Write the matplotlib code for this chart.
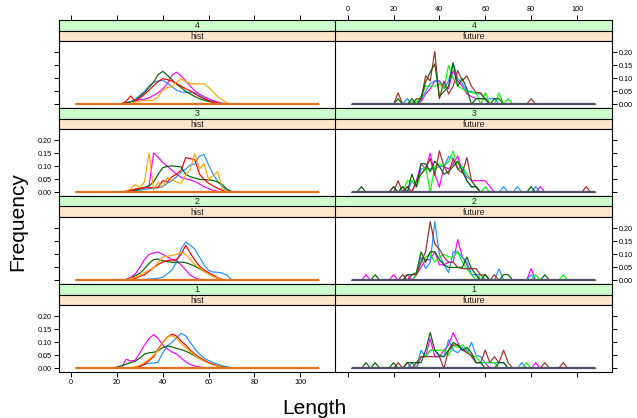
#!/usr/bin/env python3

# Lattice-style panel chart: length frequency per area (1-4), hist vs future.

import matplotlib
matplotlib.use('Agg')
import matplotlib.pyplot as plt

plt.rcParams['font.family'] = ['Liberation Sans', 'DejaVu Sans']

# Length bins (step 2). Series values below are given on WINDOW, extras
# are stray single-bin values outside it. Everything else is zero.
LENGTHS = list(range(2, 110, 2))
WINDOW = list(range(16, 74, 2))

levels = ['4', '3', '2', '1']
periods = ['hist', 'future']

hist_colors = {'magenta': '#FF00FF', 'blue': '#1E90FF', 'dkgreen': '#006400',
               'red': '#FF0000', 'orange': '#FFA500'}
future_colors = {'magenta': '#FF00FF', 'blue': '#1E90FF', 'lime': '#00FF00',
                 'brown': '#A52A2A', 'dkgreen': '#006400'}

hist_4 = {
    'magenta': [0, 0, 0, 0.002, 0.005, 0.010, 0.014, 0.018, 0.020, 0.025,
                0.035, 0.045, 0.060, 0.080, 0.112, 0.124, 0.110, 0.090, 0.070, 0.052,
                0.040, 0.030, 0.022, 0.015, 0.009, 0.005, 0.002, 0, 0],
    'blue': [0, 0, 0, 0, 0.004, 0.010, 0.020, 0.035, 0.050, 0.070,
             0.085, 0.090, 0.092, 0.082, 0.068, 0.055, 0.048, 0.046, 0.047, 0.045,
             0.035, 0.025, 0.016, 0.010, 0.006, 0.004, 0.002, 0.001, 0],
    'dkgreen': [0, 0, 0, 0.002, 0.006, 0.010, 0.015, 0.030, 0.045, 0.065,
                0.086, 0.115, 0.127, 0.112, 0.095, 0.078, 0.065, 0.050, 0.040, 0.030,
                0.022, 0.016, 0.011, 0.008, 0.004, 0.002, 0.001, 0, 0],
    'red': [0, 0, 0, 0.003, 0.012, 0.032, 0.012, 0.025, 0.038, 0.055,
            0.072, 0.088, 0.099, 0.095, 0.090, 0.080, 0.070, 0.060, 0.052, 0.040,
            0.030, 0.022, 0.015, 0.009, 0.005, 0.002, 0.001, 0, 0],
    'orange': [0, 0, 0, 0, 0.002, 0.004, 0.008, 0.012, 0.015, 0.015,
               0.015, 0.030, 0.055, 0.065, 0.068, 0.085, 0.098, 0.088, 0.080, 0.079,
               0.079, 0.079, 0.065, 0.047, 0.030, 0.018, 0.006, 0.001, 0],
}
hist_3 = {
    'magenta': [0, 0, 0, 0.002, 0.005, 0.008, 0.012, 0.015, 0.018, 0.025,
                0.152, 0.135, 0.115, 0.10, 0.085, 0.07, 0.058, 0.052, 0.048, 0.042,
                0.032, 0.022, 0.014, 0.008, 0.004, 0.002, 0, 0, 0],
    'blue': [0, 0, 0, 0, 0.002, 0.004, 0.006, 0.008, 0.011, 0.014,
             0.016, 0.018, 0.022, 0.035, 0.045, 0.06, 0.078, 0.09, 0.105, 0.11,
             0.14, 0.146, 0.105, 0.07, 0.042, 0.022, 0.01, 0.004, 0.001],
    'dkgreen': [0, 0, 0, 0.001, 0.003, 0.005, 0.008, 0.013, 0.018, 0.025,
                0.04, 0.07, 0.095, 0.10, 0.102, 0.10, 0.098, 0.07, 0.06, 0.055,
                0.05, 0.049, 0.048, 0.046, 0.04, 0.03, 0.012, 0.003, 0],
    'red': [0, 0, 0, 0.001, 0.004, 0.008, 0.012, 0.016, 0.018, 0.018,
            0.018, 0.02, 0.045, 0.04, 0.06, 0.07, 0.085, 0.134, 0.13, 0.125,
            0.07, 0.05, 0.035, 0.025, 0.015, 0.008, 0.003, 0, 0],
    'orange': [0, 0, 0, 0, 0.005, 0.014, 0.03, 0.018, 0.04, 0.152,
               0.01, 0.04, 0.02, 0.057, 0.05, 0.04, 0.035, 0.065, 0.09, 0.15,
               0.09, 0.11, 0.05, 0.065, 0.08, 0.015, 0.003, 0, 0],
}
hist_2 = {
    'magenta': [0, 0, 0, 0.001, 0.004, 0.012, 0.025, 0.05, 0.08, 0.1,
                0.106, 0.109, 0.1, 0.09, 0.08, 0.075, 0.06, 0.04, 0.02, 0.01,
                0.004, 0.002, 0, 0, 0, 0, 0, 0, 0],
    'blue': [0, 0, 0, 0, 0, 0.001, 0.002, 0.003, 0.004, 0.005,
             0.006, 0.008, 0.012, 0.025, 0.04, 0.07, 0.12, 0.148, 0.135, 0.12,
             0.09, 0.06, 0.038, 0.032, 0.031, 0.028, 0.02, 0.003, 0],
    'dkgreen': [0, 0, 0, 0.001, 0.003, 0.008, 0.018, 0.027, 0.045, 0.065,
                0.08, 0.082, 0.076, 0.072, 0.07, 0.07, 0.07, 0.068, 0.062, 0.055,
                0.045, 0.035, 0.025, 0.016, 0.008, 0.003, 0.001, 0, 0],
    'red': [0, 0, 0, 0, 0.001, 0.003, 0.008, 0.015, 0.022, 0.035,
            0.05, 0.062, 0.07, 0.077, 0.078, 0.08, 0.10, 0.135, 0.105, 0.078,
            0.055, 0.04, 0.03, 0.02, 0.01, 0.004, 0.001, 0, 0],
    'orange': [0, 0, 0, 0.001, 0.003, 0.007, 0.012, 0.018, 0.03, 0.04,
               0.048, 0.07, 0.09, 0.093, 0.096, 0.1, 0.108, 0.1, 0.08, 0.06,
               0.048, 0.035, 0.025, 0.016, 0.008, 0.003, 0.001, 0, 0],
}
hist_1 = {
    'magenta': [0, 0, 0.001, 0.004, 0.035, 0.028, 0.032, 0.06, 0.09, 0.115,
                0.13, 0.115, 0.09, 0.075, 0.063, 0.055, 0.04, 0.025, 0.015, 0.009,
                0.005, 0.003, 0.001, 0, 0, 0, 0, 0, 0],
    'blue': [0, 0, 0, 0, 0, 0.001, 0.003, 0.006, 0.015, 0.02,
             0.02, 0.025, 0.06, 0.085, 0.1, 0.118, 0.135, 0.125, 0.1, 0.075,
             0.055, 0.04, 0.03, 0.022, 0.016, 0.01, 0.006, 0.003, 0.001],
    'dkgreen': [0, 0.001, 0.005, 0.01, 0.016, 0.022, 0.028, 0.04, 0.055, 0.06,
                0.062, 0.068, 0.08, 0.087, 0.082, 0.077, 0.072, 0.066, 0.058, 0.048,
                0.038, 0.03, 0.022, 0.015, 0.009, 0.005, 0.002, 0.001, 0],
    'red': [0, 0, 0, 0, 0.001, 0.002, 0.004, 0.008, 0.016, 0.03,
            0.045, 0.075, 0.1, 0.12, 0.132, 0.125, 0.105, 0.09, 0.07, 0.055,
            0.042, 0.032, 0.022, 0.015, 0.009, 0.005, 0.002, 0.001, 0],
    'orange': [0, 0, 0, 0, 0.001, 0.003, 0.006, 0.012, 0.022, 0.035,
               0.05, 0.07, 0.1, 0.122, 0.126, 0.115, 0.095, 0.08, 0.065, 0.05,
               0.038, 0.028, 0.02, 0.013, 0.008, 0.004, 0.002, 0.001, 0],
}

future_4 = {
    'magenta': [0, 0, 0, 0, 0, 0, 0, 0, 0.01, 0.04,
                0.06, 0.09, 0.09, 0.07, 0.06, 0.13, 0.09, 0.07, 0.04, 0.03,
                0.022, 0.022, 0.022, 0, 0, 0, 0, 0, 0],
    'blue': [0, 0, 0, 0, 0, 0.022, 0, 0, 0.02, 0.05,
             0.08, 0.09, 0.09, 0.06, 0.09, 0.16, 0.10, 0.08, 0.05, 0.05,
             0.04, 0.04, 0.02, 0.022, 0.022, 0, 0, 0, 0],
    'lime': [0, 0, 0, 0, 0, 0, 0.01, 0.01, 0.03, 0.07,
             0.07, 0.07, 0.08, 0.06, 0.15, 0.10, 0.07, 0.06, 0.05, 0.045,
             0.045, 0, 0.045, 0, 0, 0.044, 0, 0.022, 0],
    'brown': [0, 0, 0, 0.044, 0, 0, 0, 0.022, 0.02, 0.11,
              0.09, 0.204, 0.022, 0.09, 0.04, 0.07, 0.13, 0.09, 0.11, 0.07,
              0.045, 0.045, 0.02, 0, 0, 0, 0, 0, 0],
    'dkgreen': [0, 0, 0, 0.022, 0, 0, 0.022, 0, 0.022, 0.086,
                0.124, 0.156, 0.03, 0.05, 0.07, 0.159, 0.07, 0.10, 0.06, 0,
                0.022, 0.022, 0.022, 0, 0.022, 0.022, 0, 0, 0],
}
future_4_extra = {'brown': {80: 0.022}}

future_3 = {
    'magenta': [0, 0, 0.022, 0, 0, 0.022, 0, 0.045, 0.11, 0.09,
                0.15, 0.07, 0.02, 0.10, 0.09, 0.11, 0.14, 0.08, 0.06, 0.045,
                0.045, 0.045, 0.045, 0.022, 0, 0, 0, 0, 0],
    'blue': [0, 0, 0, 0, 0.022, 0, 0.045, 0.02, 0.09, 0.09,
             0.09, 0.09, 0.10, 0.10, 0.137, 0.13, 0.09, 0.10, 0.045, 0.02,
             0.022, 0, 0, 0, 0, 0, 0.022, 0, 0],
    'lime': [0, 0, 0, 0, 0, 0.045, 0.045, 0.022, 0.07, 0.10,
             0, 0.10, 0.11, 0.10, 0.12, 0.16, 0.09, 0.10, 0.07, 0.045,
             0.022, 0, 0.022, 0, 0, 0, 0, 0, 0],
    'brown': [0, 0, 0, 0.045, 0, 0.022, 0, 0.045, 0.07, 0.09,
              0.13, 0.065, 0.16, 0.10, 0.07, 0.13, 0.09, 0.075, 0.134, 0.045,
              0.02, 0, 0, 0, 0, 0, 0, 0, 0],
    'dkgreen': [0, 0, 0.022, 0, 0.022, 0, 0.07, 0.022, 0.11, 0.11,
                0.08, 0.12, 0.10, 0.07, 0.08, 0.10, 0.12, 0.08, 0.045, 0.022,
                0.022, 0, 0, 0, 0, 0, 0, 0, 0],
}
future_3_extra = {'magenta': {84: 0.022}, 'blue': {74: 0.022, 82: 0.022},
                  'brown': {104: 0.022}, 'dkgreen': {6: 0.022, 80: 0.022}}

future_2 = {
    'magenta': [0, 0, 0.022, 0, 0, 0.022, 0, 0.022, 0.05, 0.08,
                0.08, 0.11, 0.06, 0.06, 0.07, 0.07, 0.157, 0.09, 0.06, 0.022,
                0.022, 0, 0, 0, 0, 0, 0, 0, 0],
    'blue': [0, 0, 0, 0, 0, 0, 0.022, 0.022, 0.09, 0.045,
             0.07, 0.226, 0.1, 0.06, 0.03, 0.11, 0.11, 0.09, 0.07, 0.022,
             0.022, 0.022, 0, 0, 0, 0.045, 0, 0, 0],
    'lime': [0, 0, 0, 0, 0, 0, 0, 0.022, 0.07, 0.09,
             0.10, 0.07, 0.09, 0.10, 0.09, 0.09, 0.11, 0.07, 0.045, 0.022,
             0, 0.022, 0, 0, 0, 0, 0, 0, 0],
    'brown': [0, 0, 0, 0, 0.022, 0, 0.022, 0.022, 0.07, 0.11,
              0.226, 0.14, 0.12, 0.09, 0.07, 0.07, 0.05, 0.045, 0.045, 0.045,
              0.045, 0.02, 0.022, 0, 0.022, 0, 0, 0, 0],
    'dkgreen': [0, 0, 0, 0, 0, 0.022, 0.022, 0.03, 0.11, 0.07,
                0.11, 0.11, 0.08, 0.06, 0.05, 0.05, 0.05, 0.05, 0.09, 0.045,
                0.022, 0, 0.022, 0, 0, 0, 0.022, 0.022, 0],
}
future_2_extra = {'magenta': {8: 0.022, 80: 0.045}, 'blue': {80: 0.022},
                  'lime': {82: 0.022, 94: 0.022}, 'dkgreen': {12: 0.022, 86: 0.022}}

future_1 = {
    'magenta': [0, 0, 0, 0, 0, 0, 0, 0, 0.045, 0.045,
                0.115, 0.045, 0.045, 0.07, 0.09, 0.137, 0.1, 0.07, 0.07, 0.045,
                0.022, 0.022, 0.022, 0, 0, 0, 0, 0, 0],
    'blue': [0, 0, 0, 0, 0, 0, 0.022, 0, 0.07, 0.045,
             0.07, 0.07, 0.045, 0.045, 0.11, 0.07, 0.06, 0.08, 0.06, 0.10,
             0.05, 0.045, 0.022, 0.022, 0.022, 0.022, 0.022, 0, 0],
    'lime': [0, 0, 0, 0, 0, 0, 0, 0.022, 0.045, 0.045,
             0.07, 0.07, 0.07, 0.07, 0.05, 0.09, 0.08, 0.09, 0.07, 0.045,
             0.045, 0.022, 0.022, 0.022, 0.022, 0, 0, 0, 0],
    'brown': [0, 0, 0, 0.022, 0, 0.022, 0, 0.022, 0.045, 0.045,
              0.045, 0.045, 0.045, 0, 0.07, 0.09, 0.09, 0.07, 0.06, 0.05,
              0.022, 0.022, 0.07, 0.022, 0.045, 0.022, 0.07, 0.022, 0],
    'dkgreen': [0, 0, 0.022, 0, 0, 0.022, 0.022, 0.022, 0.022, 0.07,
                0.138, 0.07, 0.05, 0.045, 0.07, 0.10, 0.09, 0.07, 0.08, 0.06,
                0.022, 0.022, 0, 0, 0, 0.022, 0.022, 0, 0],
}
future_1_extra = {'magenta': {82: 0.022}, 'blue': {76: 0.022}, 'lime': {78: 0.022},
                  'brown': {86: 0.022, 94: 0.022}, 'dkgreen': {8: 0.022, 12: 0.022}}

panels = {
    ('4', 'hist'): (hist_4, {}), ('4', 'future'): (future_4, future_4_extra),
    ('3', 'hist'): (hist_3, {}), ('3', 'future'): (future_3, future_3_extra),
    ('2', 'hist'): (hist_2, {}), ('2', 'future'): (future_2, future_2_extra),
    ('1', 'hist'): (hist_1, {}), ('1', 'future'): (future_1, future_1_extra),
}

x_ticks = [0, 20, 40, 60, 80, 100]
y_ticks = [0.0, 0.05, 0.10, 0.15, 0.20]


def full_series(vals, extra):
    y = dict.fromkeys(LENGTHS, 0.0)
    for k, v in zip(WINDOW, vals):
        y[k] = v
    for k, v in extra.items():
        y[k] = v
    return [y[k] for k in LENGTHS]


W, H = 637, 418
XLIM = (-5.3, 115.4)
YLIM = (-0.014, 0.244)
COLS = [(59, 335.5), (335.5, 612.3)]


def box(x0, y0, x1, y1):
    return [x0 / W, 1 - y1 / H, (x1 - x0) / W, (y1 - y0) / H]


def strip(rect, color, label):
    s = fig.add_axes(rect)
    s.set_facecolor(color)
    s.set_xlim(XLIM)
    s.set_xticks([])
    s.set_yticks([])
    for sp in s.spines.values():
        sp.set_linewidth(0.8)
    s.text(0.5, 0.45, label, transform=s.transAxes, ha='center', va='center',
           fontsize=6.3, color='#222222')
    return s


fig = plt.figure(figsize=(W / 100, H / 100), dpi=100)

for r, level in enumerate(levels):
    top = 20 + 88 * r
    for c, period in enumerate(periods):
        x0, x1 = COLS[c]
        sg = strip(box(x0, top, x1, top + 10.5), '#CCFFCC', level)
        strip(box(x0, top + 10.5, x1, top + 21), '#FFE5CC', period)
        ax = fig.add_axes(box(x0, top + 21, x1, top + 88))

        if r == 0:
            sg.set_xticks(x_ticks)
            sg.xaxis.tick_top()
            sg.tick_params(axis='x', direction='out', length=3.5, width=0.7,
                           labelsize=5.2, pad=1.5, labeltop=(c == 1))

        data, extra = panels[(level, period)]
        colors = hist_colors if period == 'hist' else future_colors
        for name, vals in data.items():
            ax.plot(LENGTHS, full_series(vals, extra.get(name, {})),
                    color=colors[name], lw=0.85)
        base = '#E0701A' if period == 'hist' else '#4F5063'
        ax.plot([LENGTHS[0], LENGTHS[-1]], [0, 0], color=base, lw=1.6,
                solid_capstyle='butt')

        ax.set_xlim(XLIM)
        ax.set_ylim(YLIM)
        ax.set_xticks(x_ticks)
        ax.set_yticks(y_ticks)
        ax.set_yticklabels([f"{t:.2f}" for t in y_ticks])
        for sp in ax.spines.values():
            sp.set_linewidth(0.8)
        last = r == len(levels) - 1
        ax.tick_params(axis='x', direction='out', length=3.5, width=0.7,
                       labelsize=5.2, pad=1.5, bottom=last,
                       labelbottom=(last and c == 0))
        if c == 0:
            ax.tick_params(axis='y', direction='out', length=3.5, width=0.7,
                           labelsize=5.2, pad=1.5, left=True, right=False,
                           labelleft=(level in ('3', '1')), labelright=False)
        else:
            ax.tick_params(axis='y', direction='out', length=3.5, width=0.7,
                           labelsize=5.2, pad=1.5, left=False, right=True,
                           labelleft=False, labelright=(level in ('4', '2')))

fig.text(23 / W, 1 - 222 / H, 'Frequency', rotation=90, rotation_mode='anchor',
         ha='center', va='baseline', fontsize=15)
fig.text(314 / W, 1 - 414 / H, 'Length', ha='center', va='baseline', fontsize=15)

plt.savefig('out.png', dpi=100)
